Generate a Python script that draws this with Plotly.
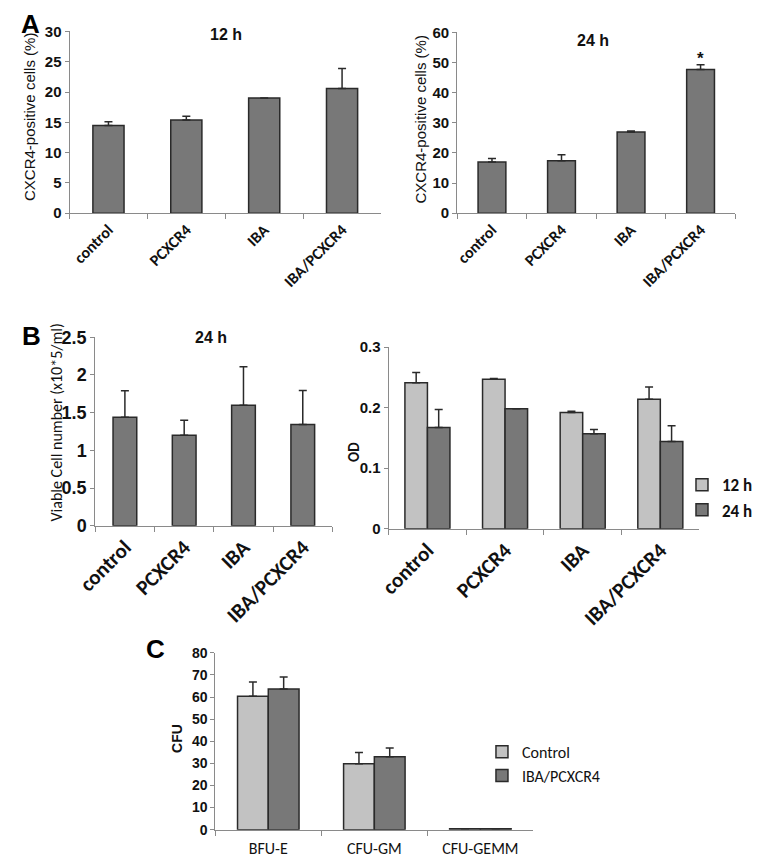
import plotly.graph_objects as go

# --- data ---
groups = ["control", "PCXCR4", "IBA", "IBA/PCXCR4"]

cxcr4_12h = [14.5, 15.4, 19.0, 20.6]
cxcr4_12h_err = [0.6, 0.6, 0.0, 3.3]

cxcr4_24h = [17.0, 17.4, 27.0, 47.7]
cxcr4_24h_err = [1.2, 2.0, 0.3, 1.6]

viable_24h = [1.44, 1.20, 1.60, 1.345]
viable_24h_err = [0.35, 0.20, 0.51, 0.45]

od_12h = [0.241, 0.247, 0.192, 0.214]
od_12h_err = [0.017, 0.001, 0.002, 0.020]
od_24h = [0.167, 0.198, 0.157, 0.144]
od_24h_err = [0.030, 0.0, 0.007, 0.026]

cfu_types = ["BFU-E", "CFU-GM", "CFU-GEMM"]
cfu_control = [60.4, 29.8, 0.45]
cfu_control_err = [6.4, 5.1, 0.0]
cfu_iba = [63.6, 33.0, 0.45]
cfu_iba_err = [5.5, 4.0, 0.0]

# --- styling ---
W, H = 758, 868
DARK = "#787878"
LIGHT = "#c2c2c2"
EDGE = "#2a2a2a"
AXIS = "#8a8a8a"
TXT = "#111"
ARIAL = "Arial, Liberation Sans, sans-serif"
CALIBRI = "Carlito, Lato, sans-serif"


def px_dom(a, b, vertical=False):
    if vertical:
        return [1 - b / H, 1 - a / H]
    return [a / W, b / W]


def bar(x, y, err, color, width, offset, xa, ya, name=None, legend="legend", show=False):
    return go.Bar(
        x=x, y=y, name=name, width=width, offset=offset,
        marker=dict(color=color, line=dict(color=EDGE, width=1.5)),
        error_y=dict(type="data", array=err, arrayminus=[0] * len(err),
                     symmetric=False, color=EDGE, thickness=1.5, width=4),
        xaxis=xa, yaxis=ya, showlegend=show, legend=legend,
    )


fig = go.Figure()

# A: CXCR4-positive cells, 12 h and 24 h
fig.add_trace(bar(groups, cxcr4_12h, cxcr4_12h_err, DARK, 0.4, -0.2, "x", "y"))
fig.add_trace(bar(groups, cxcr4_24h, cxcr4_24h_err, DARK, 0.4, -0.2, "x2", "y2"))
# B: viable cells and OD
fig.add_trace(bar(groups, viable_24h, viable_24h_err, DARK, 0.4, -0.2, "x3", "y3"))
fig.add_trace(bar(groups, od_12h, od_12h_err, LIGHT, 0.29, -0.29, "x4", "y4",
                  name="12 h", show=True))
fig.add_trace(bar(groups, od_24h, od_24h_err, DARK, 0.29, 0.0, "x4", "y4",
                  name="24 h", show=True))
# C: colony forming units
fig.add_trace(bar(cfu_types, cfu_control, cfu_control_err, LIGHT, 0.29, -0.29, "x5", "y5",
                  name="Control", legend="legend2", show=True))
fig.add_trace(bar(cfu_types, cfu_iba, cfu_iba_err, DARK, 0.29, 0.0, "x5", "y5",
                  name="IBA/PCXCR4", legend="legend2", show=True))

# panel geometry in pixels: x span, y span, y range, dtick, tick size, category label size
panels = [
    ((52, 379), (22, 208), [0, 30], 5, 15, 16),
    ((459, 751), (23, 208), [0, 60], 10, 15, 16),
    ((79, 328), (335, 528), [0, 2.5], 0.5, 18, 21),
    ((387, 713), (345, 531), [0, 0.3], 0.1, 15, 21),
    ((205, 539), (658, 839), [0, 80], 10, 14, 16),
]

layout = {}
for i, (xr, yr, rng, dt, tsize, csize) in enumerate(panels, start=1):
    sx = "" if i == 1 else str(i)
    ncat = 3 if i == 5 else 4
    xa = dict(
        type="category", domain=px_dom(*xr), anchor="y" + sx, range=[-0.5, ncat - 0.5],
        showline=True, linecolor=AXIS, linewidth=1, ticks="outside", ticklen=5,
        tickcolor=AXIS, tickson="boundaries", showgrid=False, zeroline=False,
    )
    if i == 5:
        xa.update(tickfont=dict(family=CALIBRI, size=csize, color=TXT), ticklabelstandoff=4)
    else:
        xa.update(tickangle=-45,
                  tickfont=dict(family=CALIBRI, size=csize, color=TXT, weight="bold"))
    ya = dict(
        domain=px_dom(*yr, vertical=True), anchor="x" + sx, range=rng, dtick=dt,
        showline=True, linecolor=AXIS, linewidth=1, ticks="outside", ticklen=4,
        tickcolor=AXIS, showgrid=False, zeroline=False,
        tickfont=dict(family=ARIAL, size=tsize, color=TXT, weight="bold"),
    )
    layout["xaxis" + sx] = xa
    layout["yaxis" + sx] = ya

fig.update_layout(**layout)

# y-axis titles (placed where the original has them)
ytitles = [
    ("CXCR4-positive cells (%)", 10, 110, ARIAL, 15, "normal"),
    ("CXCR4-positive cells (%)", 420, 112, ARIAL, 15, "normal"),
    ("Viable Cell number (x10*5/ml)", 38, 422, CALIBRI, 16, "normal"),
    ("OD", 350, 452, CALIBRI, 15, "bold"),
    ("CFU", 165, 746, ARIAL, 14, "bold"),
]
for text, tx, ty, fam, size, weight in ytitles:
    fig.add_annotation(text=text, xref="paper", yref="paper", x=tx / W, y=1 - ty / H,
                       xanchor="center", yanchor="middle", textangle=-90, showarrow=False,
                       font=dict(family=fam, size=size, color=TXT, weight=weight))

# panel titles
for text, tx, ty in [("12 h", 216, 25), ("24 h", 602, 31), ("24 h", 200, 335)]:
    fig.add_annotation(text=text, xref="paper", yref="paper", x=tx / W, y=1 - ty / H,
                       xanchor="center", yanchor="middle", showarrow=False,
                       font=dict(family=ARIAL, size=16, color=TXT, weight="bold"))

# panel letters
for letter, lx, ly in [("A", 11, 14), ("B", 12, 334), ("C", 142, 654)]:
    fig.add_annotation(text=letter, xref="paper", yref="paper",
                       x=lx / W, y=1 - ly / H, xanchor="center", yanchor="middle",
                       showarrow=False,
                       font=dict(family=ARIAL, size=26, color="#000", weight="bold"))

# significance mark
fig.add_annotation(text="*", xref="x2", yref="y2", x="IBA/PCXCR4", y=51.5,
                   yanchor="middle", showarrow=False,
                   font=dict(family=ARIAL, size=17, color=TXT, weight="bold"))

fig.update_layout(
    width=W, height=H, margin=dict(l=0, r=0, t=0, b=0),
    paper_bgcolor="white", plot_bgcolor="white",
    barmode="overlay",
    legend=dict(x=695 / W, y=1 - 468 / H, xanchor="left", yanchor="top",
                font=dict(family=CALIBRI, size=17, color=TXT, weight="bold"),
                itemwidth=30, tracegroupgap=0, bgcolor="rgba(0,0,0,0)"),
    legend2=dict(x=485 / W, y=1 - 742 / H, xanchor="left", yanchor="top",
                 font=dict(family=CALIBRI, size=16, color=TXT),
                 itemwidth=30, tracegroupgap=0, bgcolor="rgba(0,0,0,0)"),
)

fig.write_html("out.html", config={"displayModeBar": False},
               post_script="document.body.style.margin='0';")
